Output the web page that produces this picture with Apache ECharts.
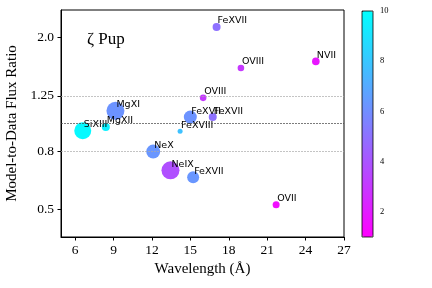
<!DOCTYPE html>
<html><head><meta charset="utf-8">
<script src="https://cdn.jsdelivr.net/npm/echarts@6/dist/echarts.min.js"></script>
<style>html,body{margin:0;padding:0;background:#fff}#c{width:432px;height:288px}</style>
</head><body><div id="c"></div>
<script>
const lineNames = ['SiXIII','MgXII','MgXI','FeXVIII','FeXVII','FeXVII','OVIII','FeXVII','OVIII','NVII','NeX','NeIX','FeXVII','OVII'];
const wavelengths = [6.6, 8.4, 9.15, 14.2, 15.0, 16.75, 16.0, 17.05, 18.95, 24.8, 12.1, 13.45, 15.22, 21.7];
const fluxRatios = [0.944, 0.973, 1.108, 0.940, 1.053, 1.053, 1.23, 2.18, 1.565, 1.651, 0.797, 0.685, 0.648, 0.519];
const lineStrengths = [289, 64, 324, 25, 169, 64, 44, 64, 44, 58, 196, 324, 144, 49];
const colorValues = [9.8, 9.5, 6.2, 7.8, 6.2, 5.0, 3.0, 5.0, 3.0, 1.8, 6.3, 3.8, 6.3, 1.5];
const xTicks = [6, 9, 12, 15, 18, 21, 24, 27];
const yTicks = [0.5, 0.8, 1.25, 2.0];
const yTickLabels = ['0.5', '0.8', '1.25', '2.0'];
const cbarTicks = [2, 4, 6, 8, 10];
const refLines = [1.25, 1.0, 0.8];
const refColors = ['#aaaaaa', '#444444', '#aaaaaa'];

const chart = echarts.init(document.getElementById('c'), null, {renderer: 'canvas'});
const data = wavelengths.map((w, i) => [w, fluxRatios[i], lineStrengths[i], colorValues[i], lineNames[i]]);
const serif = 'Liberation Serif';
function yLabel(v) {
  for (let i = 0; i < yTicks.length; i++) if (Math.abs(v - yTicks[i]) < 1e-6) return yTickLabels[i];
  return '';
}
const option = {
  animation: false,
  grid: [
    {left: 61, top: 10, right: 88, bottom: 51, show: true, borderColor: '#000', borderWidth: 1,
      containLabel: false, outerBoundsMode: 'none'},
    {left: 362, top: 11, width: 11, height: 226, show: true, borderColor: '#000', borderWidth: 0.8, z: 10,
      containLabel: false, outerBoundsMode: 'none'}
  ],
  xAxis: [
    {type: 'value', gridIndex: 0, min: 4.9, max: 27,
      name: 'Wavelength (Å)', nameLocation: 'middle', nameGap: 23,
      nameTextStyle: {fontFamily: serif, fontSize: 15, color: '#000'},
      axisLine: {show: true, onZero: false, lineStyle: {color: '#000', width: 1}},
      axisTick: {show: true, length: 3.5, customValues: xTicks, lineStyle: {color: '#000'}},
      axisLabel: {customValues: xTicks, fontFamily: serif, fontSize: 13.5, color: '#000', margin: 6},
      splitLine: {show: false}},
    {type: 'value', gridIndex: 1, min: 0, max: 1, show: false}
  ],
  yAxis: [
    {type: 'log', logBase: 10, gridIndex: 0, min: 0.4, max: 2.5,
      name: 'Model-to-Data Flux Ratio', nameLocation: 'middle', nameGap: 35,
      nameTextStyle: {fontFamily: serif, fontSize: 15, color: '#000'},
      axisLine: {show: true, onZero: false, lineStyle: {color: '#000', width: 1}},
      axisTick: {show: true, length: 3.5, customValues: yTicks, lineStyle: {color: '#000'}},
      axisLabel: {customValues: yTicks, formatter: yLabel, fontFamily: serif, fontSize: 13.5, color: '#000', margin: 7},
      splitLine: {show: false}, minorTick: {show: false}},
    {type: 'value', gridIndex: 1, min: 1, max: 10, position: 'right',
      axisLine: {show: false},
      axisTick: {show: true, length: 3.5, customValues: cbarTicks, lineStyle: {color: '#000', width: 0.8}},
      axisLabel: {customValues: cbarTicks, fontFamily: serif, fontSize: 8.5, color: '#000', margin: 7},
      splitLine: {show: false}}
  ],
  visualMap: {
    type: 'continuous', min: 1, max: 10, dimension: 3, seriesIndex: 0,
    inRange: {color: ['#ff00ff', '#00ffff']},
    left: 362, top: 11, itemWidth: 11, itemHeight: 226, padding: 0,
    calculable: false, hoverLink: false, text: null, showLabel: false
  },
  series: [{
    type: 'scatter', xAxisIndex: 0, yAxisIndex: 0, data: data,
    symbolSize: v => Math.sqrt(v[2]),
    itemStyle: {opacity: 1},
    label: {show: true, formatter: p => p.data[4], position: ['50%', '50%'], align: 'left', verticalAlign: 'bottom',
      offset: [1, -1], fontFamily: 'DejaVu Sans', fontSize: 9.5, color: '#000'},
    markLine: {silent: true, symbol: 'none', label: {show: false},
      data: refLines.map((v, i) => ({yAxis: v, lineStyle: {color: refColors[i], type: [2, 1], width: 0.7}}))}
  }],
  graphic: [{type: 'text', left: 87, top: 31, style: {text: 'ζ Pup', font: '17px "Liberation Serif"', fill: '#000'}}]
};
chart.setOption(option);
</script></body></html>
